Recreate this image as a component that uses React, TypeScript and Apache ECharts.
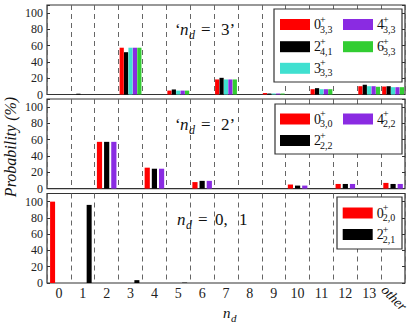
import React, { useEffect, useRef } from "react";
import * as echarts from "echarts";

const categories = ["0", "1", "2", "3", "4", "5", "6", "7", "8", "9", "10", "11", "12", "13", "other"];

// Panel 1: n_d = 3
const p1_0_33 = [0, 0, 0, 57.5, 0, 4.8, 0, 18.5, 0, 1.8, 0, 6.5, 0, 10.2, 9.8];
const p1_2_41 = [0, 1, 0, 52, 0, 6.2, 0, 20.5, 0, 1.2, 0, 7.8, 0, 12, 10.2];
const p1_3_33 = [0, 0, 0, 57.5, 0, 4.8, 0, 18.5, 0, 1.2, 0, 6.5, 0, 10.2, 9];
const p1_4_33 = [0, 0, 0, 57.5, 0, 4.8, 0, 18.5, 0, 1.2, 0, 6.5, 0, 10.2, 9];
const p1_6_33 = [0, 0, 0, 57.5, 0, 4.8, 0, 18.5, 0, 1.2, 0, 6.5, 0, 9.5, 9];

// Panel 2: n_d = 2
const p2_0_30 = [0, 0, 57.4, 0, 25.7, 0, 8, 0, 0, 0, 5, 0, 5.7, 0, 7];
const p2_2_22 = [0, 0, 57.4, 0, 24.4, 0, 9.5, 0, 0, 0, 3.7, 0, 5.7, 0, 5.7];
const p2_4_22 = [0, 0, 57.4, 0, 24.4, 0, 9.5, 0, 0, 0, 3.7, 0, 5.7, 0, 5.7];

// Panel 3: n_d = 0, 1
const p3_0_20 = [100, 0, 0, 0, 0, 0, 0, 0, 0, 0, 0, 0, 0, 0, 0];
const p3_2_21 = [0, 96, 0, 3.5, 0, 0.5, 0, 0, 0, 0, 0, 0, 0, 0, 0];

const yTicks = [0, 20, 40, 60, 80, 100];

const RED = "#ff0000";
const BLACK = "#000000";
const TURQ = "#40e0d0";
const PURPLE = "#8a2be2";
const GREEN = "#32cd32";

const FF = "Liberation Serif";

function txt(x: number, y: number, text: string, size: number, opts: any = {}) {
  return {
    type: "text",
    x,
    y,
    z: 100,
    rotation: opts.rotation || 0,
    style: {
      text,
      fontSize: size,
      fontFamily: FF,
      fontStyle: opts.italic ? "italic" : "normal",
      fill: "#111",
      align: opts.align || "left",
      verticalAlign: "middle",
    },
  };
}

function legendItem(x: number, y: number, color: string, main: string, sub: string) {
  return [
    { type: "rect", z: 101, shape: { x, y: y - 5.5, width: 30, height: 11 }, style: { fill: color } },
    txt(x + 34, y, main, 14),
    txt(x + 40, y - 5.5, "+", 10),
    txt(x + 40, y + 4.5, sub, 10),
  ];
}

function legendFrame(x: number, y: number, w: number, h: number) {
  return {
    type: "rect",
    z: 99,
    shape: { x, y, width: w, height: h },
    style: { fill: "#fff", stroke: "#333", lineWidth: 1.2 },
  };
}

export default function App() {
  const ref = useRef<HTMLDivElement>(null);
  useEffect(() => {
    if (!ref.current) return;
    const chart = echarts.init(ref.current, null, { renderer: "svg" });
    const grids = [
      { left: 47, top: 5, width: 358, height: 89.5 },
      { left: 47, top: 99, width: 358, height: 89.6 },
      { left: 47, top: 193.5, width: 358, height: 89.5 },
    ].map((g) => ({ ...g, show: true, borderColor: "#333", borderWidth: 1.2, backgroundColor: "transparent" }));

    const xAxes = [0, 1, 2].map((i) => ({
      type: "category",
      gridIndex: i,
      data: categories,
      boundaryGap: true,
      axisLine: { show: false },
      axisTick: { show: false },
      axisLabel:
        i === 2
          ? {
              show: true,
              interval: 0,
              formatter: (v: string) => (v === "other" ? "" : v),
              fontSize: 14,
              fontFamily: FF,
              color: "#222",
              margin: 3,
            }
          : { show: false },
      splitLine: { show: true, interval: 0, lineStyle: { type: [5, 4], color: "#666", width: 1 } },
    }));

    const yLeft = [0, 1, 2].map((i) => ({
      type: "value",
      gridIndex: i,
      min: 0,
      max: 110,
      interval: 20,
      axisLine: { show: false },
      axisTick: { show: true, inside: true, length: 3, lineStyle: { color: "#333" } },
      axisLabel: {
        formatter: (v: number) => (yTicks.includes(v) ? String(v) : ""),
        fontSize: 12,
        lineHeight: 12,
        fontFamily: FF,
        color: "#222",
        margin: 4,
      },
      splitLine: { show: false },
    }));
    const yRight = [0, 1, 2].map((i) => ({
      type: "value",
      gridIndex: i,
      position: "right",
      min: 0,
      max: 110,
      interval: 20,
      axisLine: { show: false },
      axisTick: { show: true, inside: true, length: 3, lineStyle: { color: "#333" } },
      axisLabel: { show: false },
      splitLine: { show: false },
    }));

    const bar = (name: string, data: number[], color: string, idx: number, w: number, gap: string) => ({
      name,
      type: "bar",
      xAxisIndex: idx,
      yAxisIndex: idx,
      data,
      barWidth: w,
      barGap: gap,
      itemStyle: { color },
      silent: true,
    });

    const series = [
      bar("0+_{3,3}", p1_0_33, RED, 0, 4.2, "5%"),
      bar("2+_{4,1}", p1_2_41, BLACK, 0, 4.2, "5%"),
      bar("3+_{3,3}", p1_3_33, TURQ, 0, 4.2, "5%"),
      bar("4+_{3,3}", p1_4_33, PURPLE, 0, 4.2, "5%"),
      bar("6+_{3,3}", p1_6_33, GREEN, 0, 4.2, "5%"),
      bar("0+_{3,0}", p2_0_30, RED, 1, 5.2, "38%"),
      bar("2+_{2,2}", p2_2_22, BLACK, 1, 5.2, "38%"),
      bar("4+_{2,2}", p2_4_22, PURPLE, 1, 5.2, "38%"),
      bar("0+_{2,0}", p3_0_20, RED, 2, 5, "154%"),
      bar("2+_{2,1}", p3_2_21, BLACK, 2, 5, "154%"),
    ];

    const graphic: any[] = [
      legendFrame(274, 9, 128, 73),
      ...legendItem(280, 24.5, RED, "0", "3,3"),
      ...legendItem(343, 24.5, PURPLE, "4", "3,3"),
      ...legendItem(280, 46.7, BLACK, "2", "4,1"),
      ...legendItem(343, 46.7, GREEN, "6", "3,3"),
      ...legendItem(280, 68.3, TURQ, "3", "3,3"),
      legendFrame(275, 104, 127, 50),
      ...legendItem(280, 119, RED, "0", "3,0"),
      ...legendItem(343, 119, PURPLE, "4", "2,2"),
      ...legendItem(280, 140.5, BLACK, "2", "2,2"),
      legendFrame(337, 197, 65, 52),
      ...legendItem(342.7, 213, RED, "0", "2,0"),
      ...legendItem(342.7, 234.5, BLACK, "2", "2,1"),
      txt(175, 29.2, "‘", 17),
      txt(180, 29.2, "n", 17, { italic: true }),
      txt(189, 35, "d", 12, { italic: true }),
      txt(201, 29.2, "=", 17),
      txt(221, 29.2, "3’", 17),
      txt(175, 124.2, "‘", 17),
      txt(180, 124.2, "n", 17, { italic: true }),
      txt(189, 130, "d", 12, { italic: true }),
      txt(201, 124.2, "=", 17),
      txt(221, 124.2, "2’", 17),
      txt(177, 219.2, "n", 17, { italic: true }),
      txt(186, 225, "d", 12, { italic: true }),
      txt(198, 219.2, "=", 17),
      txt(215, 219.2, "0,", 17),
      txt(239, 219.2, "1", 17),
      txt(223, 313, "n", 15, { italic: true }),
      txt(231, 318, "d", 11, { italic: true }),
      txt(10, 147, "Probability (%)", 16, { italic: true, align: "center", rotation: Math.PI / 2 }),
      txt(394, 298, "other", 14, { italic: true, align: "center", rotation: -Math.PI / 4 }),
    ];

    chart.setOption({
      animation: false,
      grid: grids,
      xAxis: xAxes,
      yAxis: [...yLeft, ...yRight],
      series,
      graphic,
    });
    return () => chart.dispose();
  }, []);
  return <div ref={ref} style={{ width: 414, height: 335, position: "absolute", left: 0, top: 0 }} />;
}
